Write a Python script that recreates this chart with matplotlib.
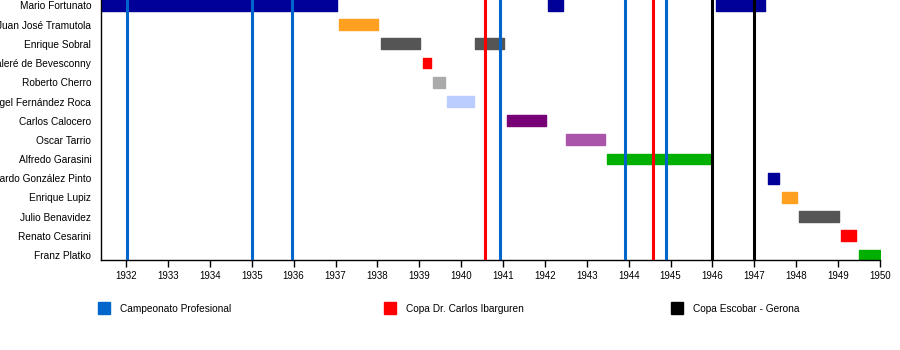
import matplotlib.pyplot as plt
from matplotlib.patches import Rectangle

plt.rcParams['font.family'] = ['Liberation Sans', 'DejaVu Sans']

coaches = ["Mario Fortunato", "Juan José Tramutola", "Enrique Sobral",
           "Valeré de Bevesconny", "Roberto Cherro", "Ángel Fernández Roca",
           "Carlos Calocero", "Oscar Tarrio", "Alfredo Garasini",
           "Ricardo González Pinto", "Enrique Lupiz", "Julio Benavidez",
           "Renato Cesarini", "Franz Platko"]

# tenure spans (start, end) in years, per coach
spans = [
    [(1931.0, 1937.04), (1942.08, 1942.43), (1946.09, 1947.26)],
    [(1937.09, 1938.01)],
    [(1938.09, 1939.02), (1940.33, 1941.03)],
    [(1939.09, 1939.28)],
    [(1939.33, 1939.61)],
    [(1939.67, 1940.31)],
    [(1941.10, 1942.02)],
    [(1942.50, 1943.44)],
    [(1943.48, 1945.96)],
    [(1947.33, 1947.59)],
    [(1947.66, 1948.02)],
    [(1948.07, 1949.03)],
    [(1949.08, 1949.43)],
    [(1949.50, 1950.0)],
]
coach_colors = ["#000099", "#FFA020", "#555555", "#FF0000", "#AAAAAA", "#BBCCFF",
                "#770077", "#AA55AA", "#00B000", "#000099", "#FFA020", "#555555",
                "#FF0000", "#00B000"]

# titles won
titles = ["Campeonato Profesional", "Copa Dr. Carlos Ibarguren", "Copa Escobar - Gerona"]
title_dates = [
    [1932.03, 1935.0, 1935.97, 1940.93, 1943.91, 1944.89],
    [1940.56, 1944.57],
    [1945.98, 1947.0],
]
title_colors = ["#0066CC", "#FF0000", "#000000"]

years = list(range(1932, 1951))

fig = plt.figure(figsize=(9, 3.5), dpi=100)
ax = fig.add_axes([0.1122, 0.257, 0.8656, 0.743])

for i, (sp, c) in enumerate(zip(spans, coach_colors)):
    ax.broken_barh([(s, e - s) for s, e in sp], (i - 0.28, 0.56), color=c, zorder=2)

for dates, c in zip(title_dates, title_colors):
    for d in dates:
        ax.axvline(d, color=c, lw=2.2, zorder=3)

ax.set_xlim(1931.4, 1950)
ax.set_ylim(13.26, -0.28)
ax.set_yticks(range(len(coaches)))
ax.set_yticklabels(coaches, fontsize=7.3)
ax.set_xticks(years)
ax.set_xticklabels([str(y) for y in years], fontsize=7)
ax.tick_params(axis='y', length=0, pad=7)
ax.tick_params(axis='x', length=5, width=1, pad=3)
for s in ['top', 'right']:
    ax.spines[s].set_visible(False)
ax.spines['left'].set_linewidth(1)
ax.spines['bottom'].set_linewidth(1)

# legend
leg_x = [98, 384, 671]
for x, name, c in zip(leg_x, titles, title_colors):
    fig.patches.append(Rectangle((x / 900, 1 - 314 / 350), 12 / 900, 12 / 350,
                                 transform=fig.transFigure, color=c))
    fig.text((x + 22) / 900, 1 - 309.5 / 350, name, fontsize=7.3, va='center')

fig.savefig("out.png", dpi=100)
